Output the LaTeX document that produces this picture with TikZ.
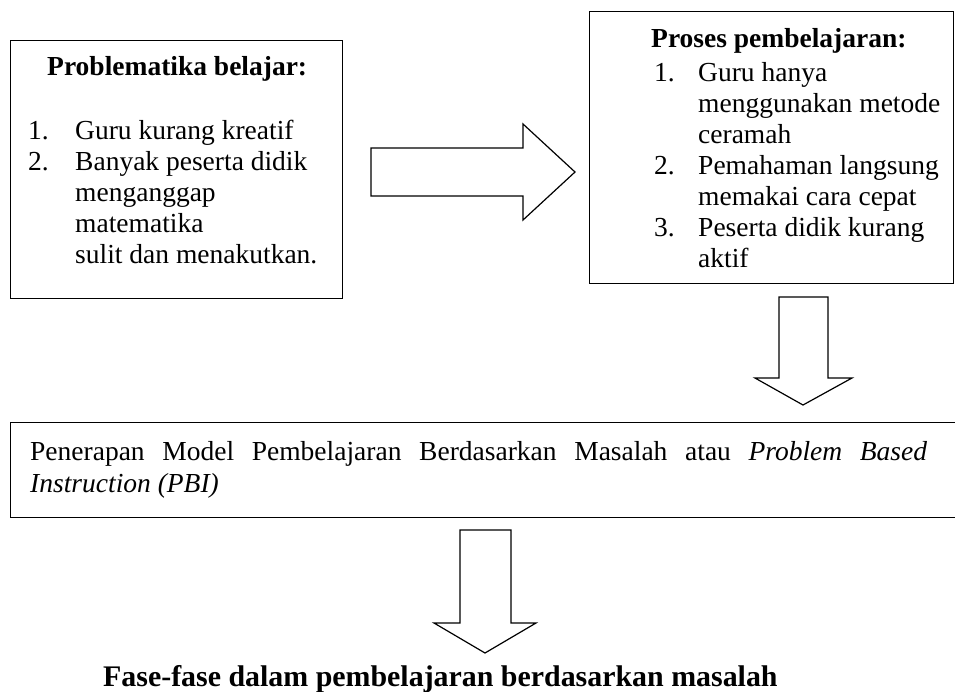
\documentclass[tikz,border=0pt]{standalone}
\usepackage{fontspec}
\setmainfont{Liberation Serif}
\begin{document}
\begin{tikzpicture}[x=1pt,y=-1pt,
  txt/.style={inner sep=0pt,anchor=base west,font=\fontsize{27.5}{31}\selectfont},
  btxt/.style={txt,font=\fontsize{27.5}{31}\selectfont\bfseries},
  boxline/.style={draw=black,line width=1.3pt},
  blockarrow/.style={draw=black,line width=1.2pt,line join=miter,fill=white}]
\useasboundingbox (0,0) rectangle (955,691);
\clip (0,0) rectangle (955,691);
% boxes
\node[boxline,anchor=north west,minimum width=332pt,minimum height=258pt,inner sep=0pt] (lbox) at (10,40) {};
\node[boxline,anchor=north west,minimum width=364pt,minimum height=272pt,inner sep=0pt] (rbox) at (589,11) {};
\node[boxline,anchor=north west,minimum width=960pt,minimum height=95pt,inner sep=0pt] (pbox) at (10,422) {};
% left box text
\node[btxt] (lt) at (47,75) {Problematika belajar:};
\node[txt] (l1n) at (28,139) {1.};
\node[txt] (l1) at (75,139) {Guru kurang kreatif};
\node[txt] (l2n) at (28,170) {2.};
\node[txt] (l2) at (75,170) {Banyak peserta didik};
\node[txt] (l2b) at (75,201) {menganggap};
\node[txt] (l2c) at (75,232) {matematika};
\node[txt] (l2d) at (75,263) {sulit dan menakutkan.};
% right box text
\node[btxt] (rt) at (651,47) {Proses pembelajaran:};
\node[txt] (r1n) at (654,81) {1.};
\node[txt] (r1) at (698,81) {Guru hanya};
\node[txt] (r1b) at (698,112) {menggunakan metode};
\node[txt] (r1c) at (698,143) {ceramah};
\node[txt] (r2n) at (654,174) {2.};
\node[txt] (r2) at (698,174) {Pemahaman langsung};
\node[txt] (r2b) at (698,205) {memakai cara cepat};
\node[txt] (r3n) at (654,236) {3.};
\node[txt] (r3) at (698,236) {Peserta didik kurang};
\node[txt] (r3b) at (698,267) {aktif};
% PBI box text
\node[txt] (p1) at (30,460) {\makebox[897pt][s]{Penerapan Model Pembelajaran Berdasarkan Masalah atau \textit{Problem Based}}};
\node[txt] (p2) at (30,492) {\textit{Instruction (PBI)}};
% bottom text
\node[inner sep=0pt,anchor=base west,font=\fontsize{29.9}{33}\selectfont\bfseries] (fase) at (103,686) {Fase-fase dalam pembelajaran berdasarkan masalah};
% block arrows
\draw[blockarrow] (371,148) -- (523,148) -- (523,124) -- (575,172) -- (523,220) -- (523,196) -- (371,196) -- cycle;
\draw[blockarrow] (779,297) -- (828,297) -- (828,378) -- (852,378) -- (803,405) -- (755,378) -- (779,378) -- cycle;
\draw[blockarrow] (460,530) -- (511,530) -- (511,623) -- (536,623) -- (485,653) -- (434,623) -- (460,623) -- cycle;
\end{tikzpicture}
\end{document}
